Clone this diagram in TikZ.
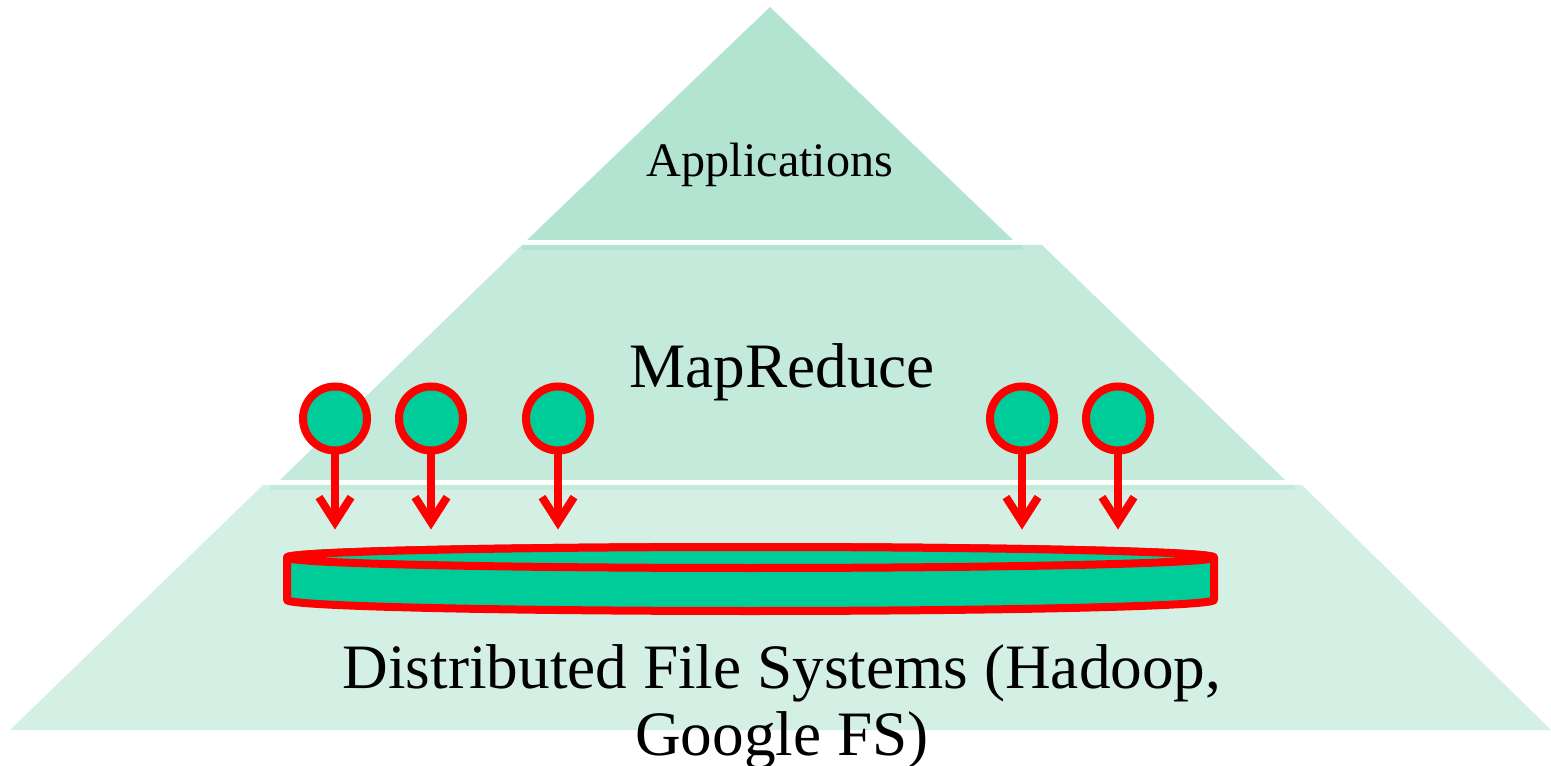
\documentclass[tikz,border=0pt]{standalone}
\usepackage{fontspec}
\setmainfont{Liberation Serif}
\usetikzlibrary{arrows.meta,positioning}
\definecolor{appcolor}{RGB}{179, 227, 209}
\definecolor{mrcolor}{RGB}{196, 234, 220}
\definecolor{dfscolor}{RGB}{212, 240, 229}
\definecolor{diskcolor}{RGB}{0, 204, 153}

\begin{document}
\begin{tikzpicture}[
                task/.style={circle, draw=red, fill=diskcolor, line width=0.08cm, minimum size=0.64cm, inner sep=0pt},
                disk/.style={draw=red, fill=diskcolor, line width=0.08cm, line join=round},
                arrow/.style={-{Straight Barb[length=0.25cm, width=0.32cm]}, red, line width=0.08cm},
                layertext/.style={font=\fontsize{18}{19}\selectfont, align=center, inner sep=0pt}]
                
                \useasboundingbox (0,0) rectangle (15.51,7.65);
                
                % Layers
                \fill[dfscolor] (2.63,2.80) -- (13.02,2.80) -- (15.51,0.35) -- (0.10,0.35) -- cycle;
                \fill[mrcolor] (2.70,2.80) rectangle (12.95,2.75);
                \fill[mrcolor] (5.22,5.20) -- (10.42,5.20) -- (12.85,2.85) -- (2.80,2.85) -- cycle;
                \fill[appcolor] (5.22,5.20) rectangle (10.23,5.15);
                \fill[appcolor] (7.70,7.58) -- (10.13,5.25) -- (5.27,5.25) -- cycle;
                
                % Layer names
                \node[layertext, font=\fontsize{13.7}{16}\selectfont, anchor=base] (app) at (7.70,5.88) {Applications};
                \node[layertext, anchor=base] (mr) at (7.82,3.77) {MapReduce};
                \node[layertext, anchor=base] (dfs) at (7.82,0.10) {Distributed File Systems (Hadoop,\\Google FS)};
                
                % Tasks
                \node[task] (t1) at (3.35,3.465) {};
                \node[task] (t2) at (4.31,3.465) {};
                \node[task] (t3) at (5.58,3.465) {};
                \node[task] (t4) at (10.22,3.465) {};
                \node[task] (t5) at (11.18,3.465) {};
                
                \coordinate[below=0.75cm of t1] (d1);
                \coordinate[below=0.75cm of t2] (d2);
                \coordinate[below=0.75cm of t3] (d3);
                \coordinate[below=0.75cm of t4] (d4);
                \coordinate[below=0.75cm of t5] (d5);
                
                \draw[arrow] (t1) -- (d1);
                \draw[arrow] (t2) -- (d2);
                \draw[arrow] (t3) -- (d3);
                \draw[arrow] (t4) -- (d4);
                \draw[arrow] (t5) -- (d5);
                
                % Disk
                \draw[disk] (2.87,2.075) -- (2.87,1.65) arc[start angle=180, end angle=360, x radius=4.635cm, y radius=0.11cm] -- (12.14,2.075) arc[start angle=0, end angle=180, x radius=4.635cm, y radius=0.105cm] -- cycle;
                \draw[disk] (7.505,2.075) ellipse[x radius=4.635cm, y radius=0.105cm];
                
            \end{tikzpicture}
\end{document}
